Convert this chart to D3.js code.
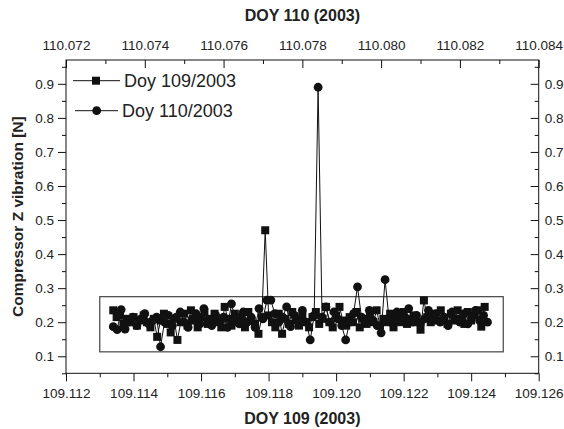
<!DOCTYPE html>
<html>
<head>
<meta charset="utf-8">
<script src="https://cdn.jsdelivr.net/npm/d3@7"></script>
<style>
  html, body { margin: 0; padding: 0; background: #fff; }
  svg { display: block; font-family: "Liberation Sans", Arial, Helvetica, sans-serif; }
</style>
</head>
<body>
<svg id="chart" width="564" height="429"></svg>
<script>
// ---------------- data ----------------
const seriesNames = ["Doy 109/2003", "Doy 110/2003"];

const doy109Time = [
  109.1134,109.1135,109.1136,109.1137,109.1138,109.1139,
  109.1140,109.1141,109.1142,109.1143,109.1144,109.1145,109.1146,109.1147,109.1148,109.1149,
  109.1150,109.1151,109.1152,109.1153,109.1154,109.1155,109.1156,109.1157,109.1158,109.1159,
  109.1160,109.1161,109.1162,109.1163,109.1164,109.1165,109.1166,109.1167,109.1168,109.1169,
  109.1170,109.1171,109.1172,109.1173,109.1174,109.1175,109.1176,109.1177,109.1178,109.1179,
  109.1180,109.1181,109.1182,109.1183,109.1184,109.1185,109.1186,109.1187,109.1188,109.1189,
  109.1190,109.1191,109.1192,109.1193,109.1194,109.1195,109.1196,109.1197,109.1198,109.1199,
  109.1200,109.1201,109.1202,109.1203,109.1204,109.1205,109.1206,109.1207,109.1208,109.1209,
  109.1210,109.1211,109.1212,109.1213,109.1214,109.1215,109.1216,109.1217,109.1218,109.1219,
  109.1220,109.1221,109.1222,109.1223,109.1224,109.1225,109.1226,109.1227,109.1228,109.1229,
  109.1230,109.1231,109.1232,109.1233,109.1234,109.1235,109.1236,109.1237,109.1238,109.1239,
  109.1240,109.1241,109.1242,109.1243,109.1244
];
const doy109Value = [
  0.235,0.215,0.22,0.195,0.21,0.2,
  0.215,0.19,0.205,0.22,0.2,0.185,0.21,0.157,0.205,0.225,
  0.195,0.17,0.21,0.148,0.2,0.225,0.19,0.235,0.205,0.185,
  0.215,0.23,0.195,0.21,0.225,0.2,0.185,0.245,0.21,0.19,
  0.225,0.2,0.215,0.185,0.23,0.205,0.195,0.166,0.215,0.47,
  0.22,0.2,0.185,0.225,0.166,0.21,0.195,0.23,0.205,0.19,
  0.22,0.2,0.185,0.215,0.23,0.195,0.21,0.245,0.2,0.185,
  0.22,0.245,0.205,0.19,0.215,0.2,0.23,0.185,0.21,0.195,
  0.22,0.2,0.235,0.19,0.21,0.2,0.225,0.185,0.215,0.2,
  0.23,0.195,0.21,0.22,0.2,0.178,0.264,0.215,0.2,0.225,
  0.205,0.235,0.21,0.195,0.225,0.205,0.235,0.21,0.195,0.23,
  0.205,0.22,0.235,0.187,0.245
];

const doy110Time = [
  110.0732,110.0733,110.0734,110.0735,110.0736,110.0737,110.0738,110.0739,
  110.0740,110.0741,110.0742,110.0743,110.0744,110.0745,110.0746,110.0747,110.0748,110.0749,
  110.0750,110.0751,110.0752,110.0753,110.0754,110.0755,110.0756,110.0757,110.0758,110.0759,
  110.0760,110.0761,110.0762,110.0763,110.0764,110.0765,110.0766,110.0767,110.0768,110.0769,
  110.0770,110.0771,110.0772,110.0773,110.0774,110.0775,110.0776,110.0777,110.0778,110.0779,
  110.0780,110.0781,110.0782,110.0783,110.0784,110.0785,110.0786,110.0787,110.0788,110.0789,
  110.0790,110.0791,110.0792,110.0793,110.0794,110.0795,110.0796,110.0797,110.0798,110.0799,
  110.0800,110.0801,110.0802,110.0803,110.0804,110.0805,110.0806,110.0807,110.0808,110.0809,
  110.0810,110.0811,110.0812,110.0813,110.0814,110.0815,110.0816,110.0817,110.0818,110.0819,
  110.0820,110.0821,110.0822,110.0823,110.0824,110.0825,110.0826,110.0827
];
const doy110Value = [
  0.187,0.178,0.237,0.18,0.2,0.215,0.19,0.21,
  0.225,0.195,0.205,0.215,0.128,0.2,0.22,0.19,0.215,0.23,
  0.2,0.185,0.21,0.225,0.195,0.24,0.205,0.19,0.22,0.2,
  0.215,0.185,0.254,0.21,0.195,0.23,0.2,0.215,0.185,0.24,
  0.21,0.265,0.265,0.225,0.2,0.215,0.245,0.187,0.22,0.205,
  0.235,0.2,0.148,0.22,0.89,0.215,0.245,0.2,0.23,0.21,
  0.19,0.148,0.2,0.225,0.304,0.215,0.2,0.235,0.205,0.19,
  0.169,0.325,0.21,0.195,0.23,0.205,0.215,0.24,0.2,0.22,
  0.195,0.21,0.235,0.205,0.225,0.2,0.215,0.19,0.23,0.21,
  0.2,0.225,0.195,0.215,0.235,0.205,0.22,0.2
];

const bottomTicks = [109.112,109.114,109.116,109.118,109.120,109.122,109.124,109.126];
const bottomMinor = [109.113,109.115,109.117,109.119,109.121,109.123,109.125];
const topTicks = [110.072,110.074,110.076,110.078,110.080,110.082,110.084];
const topMinor = [110.073,110.075,110.077,110.079,110.081,110.083];
const yTicks = [0.1,0.2,0.3,0.4,0.5,0.6,0.7,0.8,0.9];
const yMinor = [0.05,0.15,0.25,0.35,0.45,0.55,0.65,0.75,0.85,0.95];
const boxX = [109.113, 109.12495];
const boxY = [0.113, 0.275];

// ---------------- layout ----------------
const L = 66, R = 538.7, T = 60, B = 373.3;
const svg = d3.select("#chart");
const ink = "#111";
const textCol = "#222";
const tickFont = 13.5;

const x109 = d3.scaleLinear().domain([109.112, 109.126]).range([L, R]);
const x110 = d3.scaleLinear().domain([110.072, 110.084]).range([L, R]);
const y = d3.scaleLinear().domain([0.05, 0.97]).range([B, T]);

function styleAxis(g) {
  g.select(".domain").remove();
  g.selectAll("line").attr("stroke", ink).attr("stroke-width", 1);
  g.selectAll("text").attr("fill", textCol).style("font-size", tickFont + "px");
}

// bottom axis (outward ticks)
svg.append("g").attr("transform", `translate(0,${B})`)
  .call(d3.axisBottom(x109).tickValues(bottomTicks).tickFormat(d3.format(".3f")).tickSize(8).tickPadding(7))
  .call(styleAxis);
svg.append("g").attr("transform", `translate(0,${B})`)
  .call(d3.axisBottom(x109).tickValues(bottomMinor).tickFormat("").tickSize(4))
  .call(styleAxis);

// top axis (inward ticks)
svg.append("g").attr("transform", `translate(0,${T})`)
  .call(d3.axisTop(x110).tickValues(topTicks).tickFormat(d3.format(".3f")).tickSize(-8).tickPadding(10))
  .call(styleAxis);
svg.append("g").attr("transform", `translate(0,${T})`)
  .call(d3.axisTop(x110).tickValues(topMinor).tickFormat("").tickSize(-4))
  .call(styleAxis);

// left axis (outward)
svg.append("g").attr("transform", `translate(${L},0)`)
  .call(d3.axisLeft(y).tickValues(yTicks).tickFormat(d3.format(".1f")).tickSize(8).tickPadding(4))
  .call(styleAxis);
svg.append("g").attr("transform", `translate(${L},0)`)
  .call(d3.axisLeft(y).tickValues(yMinor).tickFormat("").tickSize(4))
  .call(styleAxis);

// right axis (inward)
svg.append("g").attr("transform", `translate(${R},0)`)
  .call(d3.axisRight(y).tickValues(yTicks).tickFormat(d3.format(".1f")).tickSize(-8).tickPadding(6))
  .call(styleAxis);
svg.append("g").attr("transform", `translate(${R},0)`)
  .call(d3.axisRight(y).tickValues(yMinor).tickFormat("").tickSize(-4))
  .call(styleAxis);

// frame
svg.append("rect").attr("x", L).attr("y", T).attr("width", R - L).attr("height", B - T)
  .attr("fill", "none").attr("stroke", ink).attr("stroke-width", 1);

// annotation box
svg.append("rect")
  .attr("x", x109(boxX[0])).attr("y", y(boxY[1]))
  .attr("width", x109(boxX[1]) - x109(boxX[0])).attr("height", y(boxY[0]) - y(boxY[1]))
  .attr("fill", "none").attr("stroke", "#444").attr("stroke-width", 1.2);

// series
const d109 = doy109Time.map((t, i) => ({ x: x109(t), y: y(doy109Value[i]) }));
const d110 = doy110Time.map((t, i) => ({ x: x110(t), y: y(doy110Value[i]) }));
const line = d3.line().x(d => d.x).y(d => d.y);
const sq = 8, cr = 4.4;

svg.append("path").datum(d109).attr("d", line)
  .attr("fill", "none").attr("stroke", ink).attr("stroke-width", 1);
svg.append("g").selectAll("rect").data(d109).join("rect")
  .attr("x", d => d.x - sq / 2).attr("y", d => d.y - sq / 2)
  .attr("width", sq).attr("height", sq).attr("fill", ink);

svg.append("path").datum(d110).attr("d", line)
  .attr("fill", "none").attr("stroke", ink).attr("stroke-width", 1);
svg.append("g").selectAll("circle").data(d110).join("circle")
  .attr("cx", d => d.x).attr("cy", d => d.y).attr("r", cr).attr("fill", ink);

// legend
const leg = svg.append("g");
leg.append("line").attr("x1", 73).attr("x2", 120).attr("y1", 80.7).attr("y2", 80.7)
  .attr("stroke", ink).attr("stroke-width", 1);
leg.append("rect").attr("x", 96 - sq / 2).attr("y", 80.7 - sq / 2).attr("width", sq).attr("height", sq).attr("fill", ink);
leg.append("text").attr("x", 124).attr("y", 80.7).attr("dy", "0.36em")
  .attr("fill", textCol).style("font-size", "18px").text(seriesNames[0]);

leg.append("line").attr("x1", 75).attr("x2", 118).attr("y1", 110.7).attr("y2", 110.7)
  .attr("stroke", ink).attr("stroke-width", 1);
leg.append("circle").attr("cx", 96.7).attr("cy", 110.7).attr("r", cr).attr("fill", ink);
leg.append("text").attr("x", 122).attr("y", 110.7).attr("dy", "0.36em")
  .attr("fill", textCol).style("font-size", "18px").text(seriesNames[1]);

// titles
svg.append("text").attr("x", (L + R) / 2).attr("y", 15).attr("dy", "0.36em")
  .attr("text-anchor", "middle").attr("fill", textCol)
  .style("font-size", "16px").style("font-weight", "bold").text("DOY 110 (2003)");
svg.append("text").attr("x", (L + R) / 2).attr("y", 418).attr("dy", "0.36em")
  .attr("text-anchor", "middle").attr("fill", textCol)
  .style("font-size", "16px").style("font-weight", "bold").text("DOY 109 (2003)");
svg.append("text").attr("transform", `translate(17,${(T + B) / 2}) rotate(-90)`)
  .attr("dy", "0.36em").attr("text-anchor", "middle").attr("fill", textCol)
  .style("font-size", "15.5px").style("font-weight", "bold").text("Compressor Z vibration [N]");
</script>
</body>
</html>
